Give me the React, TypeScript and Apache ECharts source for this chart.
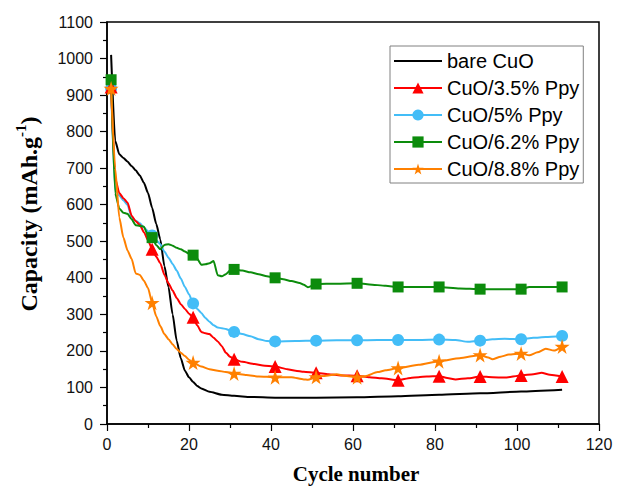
import React, { useEffect, useRef } from "react";
import * as echarts from "echarts";

const seriesNames = ["bare CuO", "CuO/3.5% Ppy", "CuO/5% Ppy", "CuO/6.2% Ppy", "CuO/8.8% Ppy"];
const markerCycles = [1, 11, 21, 31, 41, 51, 61, 71, 81, 91, 101, 111];
const xTicks = [0, 20, 40, 60, 80, 100, 120];
const yTicks = [0, 100, 200, 300, 400, 500, 600, 700, 800, 900, 1000, 1100];

const bareX = [1, 2, 3, 4, 5, 6, 7, 8, 9, 10, 11, 12, 13, 14, 15, 16, 17, 18, 19, 20, 21, 22, 23, 25, 28, 31, 35, 41, 51, 61, 71, 81, 91, 101, 111];
const bareY = [1010, 775, 738, 728, 718, 706, 694, 680, 660, 632, 592, 548, 505, 432, 375, 300, 228, 180, 146, 128, 115, 104, 97, 88, 80, 77, 74, 72, 72, 73, 76, 80, 84, 89, 94];

const ppy35X = [1, 2, 3, 4, 5, 6, 7, 8, 9, 10, 11, 12, 13, 14, 15, 16, 17, 18, 19, 20, 21, 22, 23, 24, 25, 26, 27, 28, 29, 30, 31, 33, 36, 38, 41, 44, 46, 48, 51, 54, 57, 61, 64, 67, 71, 74, 76, 78, 81, 83, 85, 88, 91, 94, 97, 101, 104, 106, 108, 111];
const ppy35Y = [922, 672, 632, 618, 606, 570, 555, 545, 525, 503, 478, 458, 440, 408, 385, 365, 345, 328, 315, 302, 292, 270, 252, 248, 246, 236, 226, 213, 195, 184, 177, 170, 164, 160, 157, 150, 146, 143, 140, 136, 133, 132, 128, 125, 120, 126, 128, 130, 131, 126, 122, 125, 130, 128, 127, 133, 136, 140, 135, 130];

const ppy5X = [1, 2, 3, 4, 5, 6, 7, 8, 9, 10, 11, 12, 13, 14, 15, 16, 17, 18, 19, 20, 21, 22, 23, 24, 25, 26, 27, 28, 29, 30, 31, 33, 35, 37, 39, 41, 46, 51, 56, 61, 66, 71, 76, 81, 85, 88, 91, 94, 97, 101, 104, 107, 111];
const ppy5Y = [918, 640, 625, 612, 600, 566, 556, 549, 538, 527, 516, 503, 492, 472, 455, 438, 420, 398, 375, 355, 330, 315, 304, 290, 280, 270, 264, 262, 260, 256, 252, 246, 240, 232, 227, 226, 227, 228, 229, 229, 230, 230, 230, 231, 230, 225, 228, 232, 233, 232, 236, 238, 241];

const ppy62X = [1, 2, 3, 4, 5, 6, 7, 8, 9, 10, 11, 12, 13, 14, 15, 16, 17, 18, 19, 20, 21, 22, 23, 24, 25, 26, 27, 28, 29, 30, 31, 33, 35, 37, 39, 41, 43, 45, 47, 48, 49, 50, 51, 56, 61, 64, 68, 71, 76, 81, 86, 91, 96, 101, 103, 106, 111];
const ppy62Y = [942, 631, 590, 578, 575, 560, 544, 542, 540, 515, 510, 490, 478, 490, 492, 488, 482, 478, 472, 466, 462, 452, 436, 437, 440, 446, 407, 404, 410, 420, 423, 420, 415, 410, 404, 400, 396, 391, 386, 381, 374, 378, 383, 384, 385, 382, 378, 375, 375, 375, 371, 369, 369, 369, 375, 375, 375];

const ppy88X = [1, 2, 3, 4, 5, 6, 7, 8, 9, 10, 11, 12, 13, 14, 15, 16, 17, 18, 19, 20, 21, 23, 25, 27, 29, 31, 34, 37, 41, 45, 48, 49, 51, 54, 56, 58, 61, 63, 66, 68, 71, 76, 81, 86, 91, 93, 94, 96, 98, 101, 103, 105, 107, 109, 111];
const ppy88Y = [918, 700, 565, 510, 475, 452, 412, 408, 392, 372, 332, 295, 268, 246, 232, 218, 205, 195, 186, 176, 168, 157, 150, 146, 142, 138, 134, 130, 128, 128, 122, 121, 129, 133, 136, 132, 128, 131, 142, 147, 153, 162, 172, 180, 189, 182, 177, 184, 190, 193, 188, 196, 206, 201, 212];

const colors = ["#000000", "#ff0000", "#43bdf7", "#0c8c0c", "#ff8000"];
const starPath = "path://M50,0 L61,35 L98,35 L68,57 L79,91 L50,70 L21,91 L32,57 L2,35 L39,35 Z";
const symbols = ["none", "triangle", "circle", "rect", starPath];
const symbolSizes = [0, 13, 12, 11, 15];
const zOrder = [2, 4, 3, 5, 6];

function buildData(xs: number[], ys: number[], symbol: string) {
  return xs.map((x, i) => ({
    value: [x, ys[i]],
    symbol: symbol !== "none" && markerCycles.includes(x) ? symbol : "none",
  }));
}

export default function App() {
  const ref = useRef<HTMLDivElement>(null);
  useEffect(() => {
    if (!ref.current) return;
    const chart = echarts.init(ref.current, null, { renderer: "svg" });
    const xsList = [bareX, ppy35X, ppy5X, ppy62X, ppy88X];
    const ysList = [bareY, ppy35Y, ppy5Y, ppy62Y, ppy88Y];
    const series = seriesNames.map((name, i) => ({
      name,
      type: "line",
      data: buildData(xsList[i], ysList[i], symbols[i]),
      symbol: symbols[i],
      symbolSize: symbolSizes[i],
      showAllSymbol: true,
      smooth: 0.2,
      smoothMonotone: "x",
      lineStyle: { color: colors[i], width: 2 },
      itemStyle: { color: colors[i] },
      z: zOrder[i],
    }));
    const axisLabelStyle = { fontFamily: "Liberation Sans", fontSize: 16, color: "#111", formatter: (v: number) => String(v) };
    chart.setOption({
      animation: false,
      backgroundColor: "#ffffff",
      grid: { left: 107, right: 25, top: 22, bottom: 62, show: true, borderColor: "#000", borderWidth: 1.5, backgroundColor: "transparent" },
      legend: {
        orient: "vertical",
        left: 390,
        top: 46,
        padding: [5, 4, 4, 3],
        itemWidth: 48,
        itemHeight: 14,
        itemGap: 7,
        borderColor: "#808080",
        borderWidth: 1,
        textStyle: { fontFamily: "Liberation Sans", fontSize: 20, color: "#000" },
        data: [
          { name: seriesNames[0], itemStyle: { opacity: 0 } },
          seriesNames[1],
          seriesNames[2],
          seriesNames[3],
          seriesNames[4],
        ],
      },
      xAxis: {
        type: "value",
        min: 0,
        max: 120,
        interval: 20,
        axisLine: { lineStyle: { color: "#000", width: 1.5 } },
        axisTick: { length: 7, lineStyle: { color: "#000", width: 1.2 } },
        minorTick: { show: true, splitNumber: 2, length: 4, lineStyle: { color: "#000", width: 1.2 } },
        splitLine: { show: false },
        axisLabel: { ...axisLabelStyle, margin: 12, customValues: xTicks },
      },
      yAxis: {
        type: "value",
        min: 0,
        max: 1100,
        interval: 100,
        axisLine: { lineStyle: { color: "#000", width: 1.5 } },
        axisTick: { length: 7, lineStyle: { color: "#000", width: 1.2 } },
        minorTick: { show: true, splitNumber: 2, length: 4, lineStyle: { color: "#000", width: 1.2 } },
        splitLine: { show: false },
        axisLabel: { ...axisLabelStyle, margin: 14, customValues: yTicks },
      },
      graphic: [
        {
          type: "text",
          x: 356,
          y: 474,
          style: {
            text: "Cycle number",
            font: "bold 21px 'Liberation Serif'",
            fill: "#000",
            align: "center",
            verticalAlign: "middle",
          },
        },
        {
          type: "text",
          x: 27,
          y: 214,
          rotation: Math.PI / 2,
          style: {
            text: "{a|Capacity (mAh.g}{s|-1}{a|)}",
            align: "center",
            verticalAlign: "middle",
            rich: {
              a: { fontFamily: "Liberation Serif", fontWeight: "bold", fontSize: 24, lineHeight: 27, verticalAlign: "bottom", fill: "#000" },
              s: { fontFamily: "Liberation Serif", fontWeight: "bold", fontSize: 15, lineHeight: 15, verticalAlign: "top", fill: "#000" },
            },
          },
        },
      ],
      series,
    });
    return () => chart.dispose();
  }, []);
  return <div ref={ref} style={{ position: "fixed", left: 0, top: 0, width: 624, height: 486, background: "#fff" }} />;
}
